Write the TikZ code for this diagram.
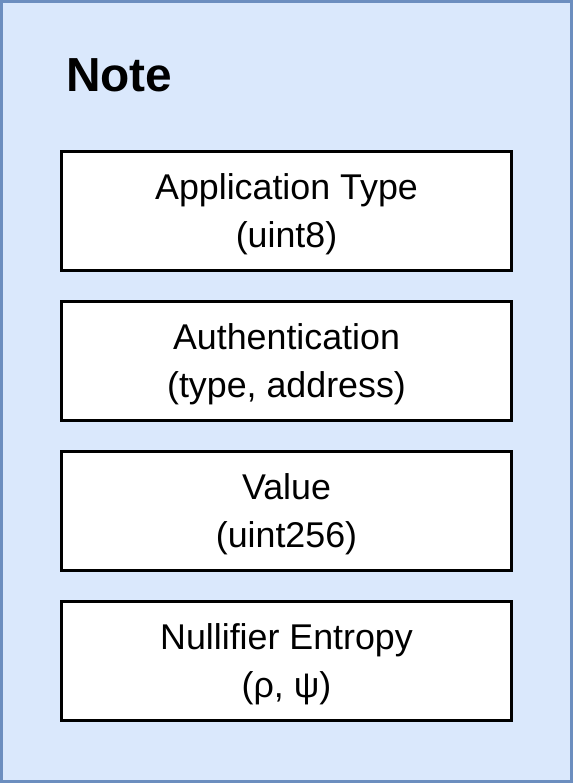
\documentclass[tikz,border=0pt]{standalone}
\usepackage{fontspec}
\setmainfont{Liberation Sans}
\definecolor{notefill}{HTML}{DAE8FC}
\definecolor{noteborder}{HTML}{6C8EBF}
\begin{document}
\begin{tikzpicture}[x=1pt,y=-1pt,
  field/.style={draw=black,line width=2.5pt,fill=white,minimum width=450pt,minimum height=119pt,inner sep=0pt},
  fieldtext/.style={inner sep=0pt,align=center,font=\fontsize{35.8}{48}\selectfont},
  title/.style={anchor=west,inner sep=0pt,font=\fontsize{47.8}{52}\selectfont\bfseries}]
\useasboundingbox (0,0) rectangle (573,783);
\draw[noteborder,fill=notefill,line width=3pt] (1.5,1.5) rectangle (571.5,781.5);
\node[title] (t) at (66,75) {Note};
\node[field] (a) at (286.5,211) {};
\node[fieldtext] (at) at ([yshift=-3pt]a.center) {Application Type\\(uint8)};
\node[field] (b) at (286.5,361) {};
\node[fieldtext] (bt) at ([yshift=-3pt]b.center) {Authentication\\(type, address)};
\node[field] (c) at (286.5,511) {};
\node[fieldtext] (ct) at ([yshift=-3pt]c.center) {Value\\(uint256)};
\node[field] (d) at (286.5,661) {};
\node[fieldtext] (dt) at ([yshift=-3pt]d.center) {Nullifier Entropy\\(ρ, ψ)};
\end{tikzpicture}
\end{document}
